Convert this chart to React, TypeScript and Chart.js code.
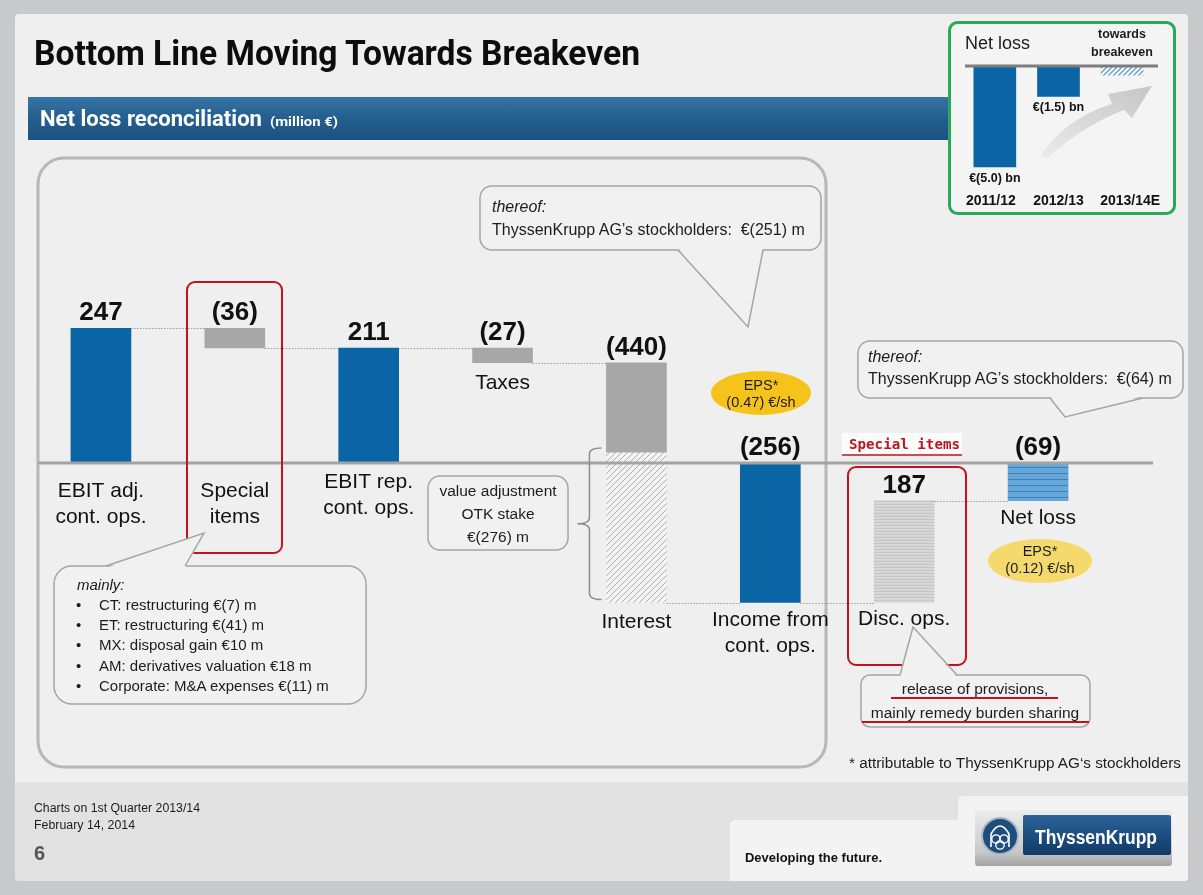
import React, { useEffect, useRef } from "react";
import { Chart, registerables } from "chart.js";
Chart.register(...registerables);

// ---------------- DATA ----------------
const categories: string[][] = [
  ["EBIT adj.", "cont. ops."],
  ["Special", "items"],
  ["EBIT rep.", "cont. ops."],
  ["Taxes"],
  ["Interest"],
  ["Income from", "cont. ops."],
  ["Disc. ops."],
  ["Net loss"],
];
const values = [247, -36, 211, -27, -440, -256, 187, -69];
const barKinds = ["total", "delta", "total", "delta", "delta", "total", "delta", "total"];
const valueLabels = ["247", "(36)", "211", "(27)", "(440)", "(256)", "187", "(69)"];
const otkIndex = 4;
const otkStake = -276;

const insetYears = ["2011/12", "2012/13", "2013/14E"];
const insetValues = [-5.0, -1.5, -0.45];
const insetValueLabels = ["€(5.0) bn", "€(1.5) bn", ""];

// ---------------- STYLE / LAYOUT ----------------
const BLUE = "#0b64a3";
const GRAY = "#a7a7a7";
const barLook = ["blue", "gray", "blue", "gray", "gray", "blue", "disc", "net"];
const labelAnchor = ["zero", "zero", "zero", "bar", "bar", "bar", "bar", "bar"];
const labelGap = [28, 28, 19, 20, 20, 18, 17, 18];
const FONT = "'Liberation Sans', Arial, sans-serif";

function computeRanges(): [number, number][] {
  let running = 0;
  return values.map((v, i) => {
    if (barKinds[i] === "total") {
      running = v;
      return [0, v] as [number, number];
    }
    const s = running;
    running = s + v;
    return [s, running] as [number, number];
  });
}

function makePattern(w: number, h: number, draw: (g: CanvasRenderingContext2D) => void): CanvasPattern {
  const c = document.createElement("canvas");
  c.width = w;
  c.height = h;
  const g = c.getContext("2d")!;
  draw(g);
  return g.createPattern(c, "repeat")!;
}

function diagHatch(bg: string, fg: string, s: number, lw: number) {
  return makePattern(s, s, (g) => {
    g.fillStyle = bg;
    g.fillRect(0, 0, s, s);
    g.strokeStyle = fg;
    g.lineWidth = lw;
    g.beginPath();
    g.moveTo(0, s);
    g.lineTo(s, 0);
    g.moveTo(-s / 2, s / 2);
    g.lineTo(s / 2, -s / 2);
    g.moveTo(s / 2, s * 1.5);
    g.lineTo(s * 1.5, s / 2);
    g.stroke();
  });
}

function mainConfig(): any {
  const ranges = computeRanges();
  const n = categories.length;
  const pick = (look: string) => ranges.map((r, i) => (barLook[i] === look ? r : null));
  const grayData = pick("gray").map((r, i) => (r && i === otkIndex ? [r[0], r[1] - otkStake] : r));
  const otkData = ranges.map((r, i) => (i === otkIndex ? [r[1] - otkStake, r[1]] : null));

  const otkPattern = diagHatch("#f4f4f4", "#ababab", 6, 1);
  const netPattern = makePattern(4, 6, (g) => {
    g.fillStyle = "#67a6d8";
    g.fillRect(0, 0, 4, 6);
    g.fillStyle = "#3c80bd";
    g.fillRect(0, 5, 4, 1);
  });
  const discPattern = makePattern(2, 3, (g) => {
    g.fillStyle = "#d5d5d5";
    g.fillRect(0, 0, 2, 3);
    g.fillStyle = "#c4c4c4";
    g.fillRect(0, 0, 2, 1);
    g.fillStyle = "#dedede";
    g.fillRect(1, 1, 1, 1);
  });

  const ds = (label: string, data: any[], color: any) => ({
    label,
    data,
    backgroundColor: color,
    borderWidth: 0,
    grouped: false,
    barThickness: 60,
  });

  const plugin = {
    id: "waterfallDeco",
    afterDatasetsDraw(chart: any) {
      const ctx = chart.ctx as CanvasRenderingContext2D;
      const xs = chart.scales.x;
      const ys = chart.scales.y;
      const y0 = ys.getPixelForValue(0);
      const half = 30;
      ctx.save();
      // dotted connectors
      ctx.strokeStyle = "#9b9b9b";
      ctx.lineWidth = 1;
      ctx.setLineDash([1.5, 1.5]);
      for (let i = 0; i < n - 1; i++) {
        const ly = Math.round(ys.getPixelForValue(ranges[i][1])) + 0.5;
        ctx.beginPath();
        ctx.moveTo(xs.getPixelForValue(i) + half, ly);
        ctx.lineTo(xs.getPixelForValue(i + 1) - half, ly);
        ctx.stroke();
      }
      ctx.setLineDash([]);
      // zero line
      ctx.strokeStyle = "#a3a3a3";
      ctx.lineWidth = 3;
      ctx.beginPath();
      ctx.moveTo(38, y0);
      ctx.lineTo(1153, y0);
      ctx.stroke();
      // bracket for OTK stake
      const r = ranges[otkIndex];
      const bTop = ys.getPixelForValue(r[1] - otkStake) - 4;
      const bBot = ys.getPixelForValue(r[1]) - 3;
      const bx = xs.getPixelForValue(otkIndex) - half - 17;
      const mid = (bTop + bBot) / 2;
      ctx.strokeStyle = "#8d8d8d";
      ctx.lineWidth = 1.5;
      ctx.beginPath();
      ctx.moveTo(bx + 12, bTop);
      ctx.quadraticCurveTo(bx, bTop, bx, bTop + 6);
      ctx.lineTo(bx, mid - 6);
      ctx.quadraticCurveTo(bx, mid, bx - 12, mid);
      ctx.quadraticCurveTo(bx, mid, bx, mid + 6);
      ctx.lineTo(bx, bBot - 6);
      ctx.quadraticCurveTo(bx, bBot, bx + 12, bBot);
      ctx.stroke();
      // value labels
      ctx.fillStyle = "#111";
      ctx.textAlign = "center";
      ctx.textBaseline = "alphabetic";
      ctx.font = `bold 26px ${FONT}`;
      for (let i = 0; i < n; i++) {
        const top = ys.getPixelForValue(Math.max(ranges[i][0], ranges[i][1]));
        ctx.fillText(valueLabels[i], xs.getPixelForValue(i), top - 8);
      }
      // category labels
      ctx.font = `21px ${FONT}`;
      ctx.textBaseline = "middle";
      for (let i = 0; i < n; i++) {
        const base =
          labelAnchor[i] === "zero" ? y0 : ys.getPixelForValue(Math.min(ranges[i][0], ranges[i][1]));
        categories[i].forEach((t, j) => {
          ctx.fillText(t, xs.getPixelForValue(i), base + labelGap[i] + j * 26);
        });
      }
      ctx.restore();
    },
  };

  return {
    type: "bar",
    data: {
      labels: categories.map((c) => c.join(" ")),
      datasets: [
        ds("Totals", pick("blue"), BLUE),
        ds("Changes", grayData, GRAY),
        ds("Value adjustment OTK stake", otkData, otkPattern),
        ds("Disc. ops.", pick("disc"), discPattern),
        ds("Net loss", pick("net"), netPattern),
      ],
    },
    options: {
      animation: false,
      responsive: false,
      maintainAspectRatio: false,
      layout: { padding: { left: 34, right: 98, top: 299.5, bottom: 268.5 } },
      scales: {
        x: { display: false },
        y: { display: false, min: -300, max: 300 },
      },
      plugins: { legend: { display: false }, tooltip: { enabled: false } },
    },
    plugins: [plugin],
  };
}

function insetConfig(): any {
  const hatch = diagHatch("#f6f6f6", "#4a93c2", 5, 1.2);
  const plugin = {
    id: "insetDeco",
    afterDatasetsDraw(chart: any) {
      const ctx = chart.ctx as CanvasRenderingContext2D;
      const xs = chart.scales.x;
      const ys = chart.scales.y;
      const y0 = ys.getPixelForValue(0);
      ctx.save();
      ctx.strokeStyle = "#7d7d7d";
      ctx.lineWidth = 3;
      ctx.beginPath();
      ctx.moveTo(17, y0);
      ctx.lineTo(210, y0);
      ctx.stroke();
      ctx.fillStyle = "#111";
      ctx.textAlign = "center";
      ctx.textBaseline = "alphabetic";
      ctx.font = `bold 12.5px ${FONT}`;
      insetValues.forEach((v, i) => {
        ctx.fillText(insetValueLabels[i], xs.getPixelForValue(i), ys.getPixelForValue(v) + 15);
      });
      ctx.font = `bold 14px ${FONT}`;
      insetYears.forEach((t, i) => {
        ctx.fillText(t, xs.getPixelForValue(i) + (i === 2 ? 8 : i === 0 ? -4 : 0), 184);
      });
      ctx.restore();
    },
  };
  return {
    type: "bar",
    data: {
      labels: insetYears,
      datasets: [
        {
          label: "Net loss",
          data: insetValues.map((v) => [0, v]),
          backgroundColor: [BLUE, BLUE, hatch],
          borderWidth: 0,
          barThickness: 42,
        },
      ],
    },
    options: {
      animation: false,
      responsive: false,
      maintainAspectRatio: false,
      layout: { padding: { left: 15, right: 22, top: 24.8, bottom: 37.9 } },
      scales: { x: { display: false }, y: { display: false, min: -5.5, max: 1 } },
      plugins: { legend: { display: false }, tooltip: { enabled: false } },
    },
    plugins: [plugin],
  };
}

// ---------------- SVG helpers ----------------
const CB_FILL = "#f1f1f1";
const CB_STROKE = "#a5a5a5";

function Callout(p: { x: number; y: number; w: number; h: number; r: number; tail?: number[][] }) {
  const { x, y, w, h, r, tail } = p;
  let poly = "";
  let line = "";
  if (tail) {
    const [a, t, b] = tail;
    const inward = t[1] > a[1] ? -2 : 2;
    poly = `${a[0]},${a[1] + inward} ${t[0]},${t[1]} ${b[0]},${b[1] + inward}`;
    line = `${a[0]},${a[1]} ${t[0]},${t[1]} ${b[0]},${b[1]}`;
  }
  return (
    <g>
      <rect x={x} y={y} width={w} height={h} rx={r} fill={CB_FILL} stroke={CB_STROKE} strokeWidth={1.5} />
      {tail && <polygon points={poly} fill={CB_FILL} stroke="none" />}
      {tail && <polyline points={line} fill="none" stroke={CB_STROKE} strokeWidth={1.5} />}
    </g>
  );
}

function BackSvg() {
  return (
    <svg width={1203} height={895} style={{ position: "absolute", left: 0, top: 0 }}>
      <defs>
        <linearGradient id="banner" x1="0" y1="0" x2="0" y2="1">
          <stop offset="0" stopColor="#3775a7" />
          <stop offset="0.45" stopColor="#25608f" />
          <stop offset="1" stopColor="#1a5283" />
        </linearGradient>
      </defs>
      <rect width={1203} height={895} fill="#c8c9cb" />
      <rect x={15} y={14} width={1173} height={867} rx={4} fill="#efefef" />
      <path d="M15,782 L1188,782 L1188,877 Q1188,881 1184,881 L19,881 Q15,881 15,877 Z" fill="#e2e2e2" />
      <path d="M730,881 L730,826 Q730,820 736,820 L958,820 L958,802 Q958,796 964,796 L1188,796 L1188,877 Q1188,881 1184,881 Z" fill="#f3f3f3" />
      <rect x={28} y={97} width={922} height={43} fill="url(#banner)" />
      <rect x={38} y={158} width={788} height={609} rx={26} fill="none" stroke="#b7b7b7" strokeWidth={3} />
    </svg>
  );
}

function FrontSvg() {
  const t = { fontFamily: FONT, fill: "#1c1c1c" } as any;
  return (
    <svg width={1203} height={895} style={{ position: "absolute", left: 0, top: 0 }}>
      <defs>
        <linearGradient id="logoGray" x1="0" y1="0" x2="0" y2="1">
          <stop offset="0" stopColor="#ececec" />
          <stop offset="0.75" stopColor="#c9c9c9" />
          <stop offset="1" stopColor="#a3a3a3" />
        </linearGradient>
        <linearGradient id="logoBlue" x1="0" y1="0" x2="0" y2="1">
          <stop offset="0" stopColor="#2d6299" />
          <stop offset="1" stopColor="#0f3b68" />
        </linearGradient>
        <linearGradient id="arrowGrad" x1="0" y1="1" x2="1" y2="0">
          <stop offset="0" stopColor="#ebebeb" />
          <stop offset="1" stopColor="#c6c6c6" />
        </linearGradient>
      </defs>

      {/* Title and banner */}
      <text x={34} y={65} fontFamily="Roboto, sans-serif" fontWeight={700} fontSize={35} fill="#0d0d0d" textLength={606} lengthAdjust="spacingAndGlyphs">
        Bottom Line Moving Towards Breakeven
      </text>
      <text x={40} y={126} fontFamily="Roboto, sans-serif" fontWeight={700} fontSize={22} fill="#ffffff" textLength={222} lengthAdjust="spacingAndGlyphs">
        Net loss reconciliation
      </text>
      <text x={270} y={126} fontFamily="Roboto, sans-serif" fontWeight={700} fontSize={13} fill="#ffffff" textLength={68} lengthAdjust="spacingAndGlyphs">
        (million €)
      </text>

      {/* Red boxes */}
      <rect x={187} y={282} width={95} height={271} rx={8} fill="none" stroke="#c2121c" strokeWidth={2} />
      <rect x={848} y={467} width={118} height={198} rx={8} fill="none" stroke="#c2121c" strokeWidth={2} />
      <rect x={842} y={433} width={120} height={21} fill="#fbfbfb" />
      <text x={849} y={449} fontFamily="'DejaVu Sans Mono', monospace" fontWeight={700} fontSize={14} fill="#c0141c" textLength={111} lengthAdjust="spacingAndGlyphs">
        Special items
      </text>
      <line x1={842} y1={455} x2={962} y2={455} stroke="#c0141c" strokeWidth={1.5} />

      {/* Callouts */}
      <Callout x={480} y={186} w={341} h={64} r={12} tail={[[678, 250], [748, 327], [763, 250]]} />
      <text {...t} x={492} y={212} fontSize={16} fontStyle="italic">thereof:</text>
      <text {...t} x={492} y={235} fontSize={16}>{"ThyssenKrupp AG’s stockholders:\u00a0 €(251) m"}</text>

      <Callout x={858} y={341} w={325} h={57} r={12} tail={[[1050, 398], [1065, 417], [1143, 398]]} />
      <text {...t} x={868} y={362} fontSize={16} fontStyle="italic">thereof:</text>
      <text {...t} x={868} y={384} fontSize={16}>{"ThyssenKrupp AG’s stockholders:\u00a0 €(64) m"}</text>

      <Callout x={428} y={476} w={140} h={74} r={12} />
      <text {...t} x={498} y={496} fontSize={15.5} textAnchor="middle">value adjustment</text>
      <text {...t} x={498} y={519} fontSize={15.5} textAnchor="middle">OTK stake</text>
      <text {...t} x={498} y={542} fontSize={15.5} textAnchor="middle">€(276) m</text>

      <Callout x={54} y={566} w={312} h={138} r={18} tail={[[106, 566], [204, 533], [185, 566]]} />
      <text {...t} x={77} y={590} fontSize={15} fontStyle="italic">mainly:</text>
      {[
        "CT: restructuring €(7) m",
        "ET: restructuring €(41) m",
        "MX: disposal gain €10 m",
        "AM: derivatives valuation €18 m",
        "Corporate: M&A expenses €(11) m",
      ].map((s, i) => (
        <g key={i}>
          <text {...t} x={76} y={610 + i * 20.2} fontSize={15}>•</text>
          <text {...t} x={99} y={610 + i * 20.2} fontSize={15}>{s}</text>
        </g>
      ))}

      <Callout x={861} y={675} w={229} h={52} r={9} tail={[[900, 675], [913, 627], [957, 675]]} />
      <text {...t} x={975} y={694} fontSize={15.5} textAnchor="middle">release of provisions,</text>
      <text {...t} x={975} y={718} fontSize={15.5} textAnchor="middle">mainly remedy burden sharing</text>
      <line x1={891} y1={698} x2={1058} y2={698} stroke="#c0141c" strokeWidth={2} />
      <line x1={862} y1={722} x2={1089} y2={722} stroke="#c0141c" strokeWidth={2} />

      {/* EPS ellipses */}
      <ellipse cx={761} cy={393} rx={50} ry={22} fill="#f6c31b" />
      <text {...t} x={761} y={390} fontSize={14.5} textAnchor="middle">EPS*</text>
      <text {...t} x={761} y={407} fontSize={14.5} textAnchor="middle">(0.47) €/sh</text>
      <ellipse cx={1040} cy={561} rx={52} ry={22} fill="#f4d96d" />
      <text {...t} x={1040} y={556} fontSize={14.5} textAnchor="middle">EPS*</text>
      <text {...t} x={1040} y={573} fontSize={14.5} textAnchor="middle">(0.12) €/sh</text>

      <text {...t} x={849} y={768} fontSize={15.5} textLength={332} lengthAdjust="spacingAndGlyphs">
        * attributable to ThyssenKrupp AG‘s stockholders
      </text>

      {/* Inset box */}
      <rect x={949.5} y={22.5} width={225} height={191} rx={8} fill="#f4f4f4" stroke="#2aa85a" strokeWidth={3} />
      <text {...t} x={965} y={49} fontSize={18}>Net loss</text>
      <text {...t} x={1122} y={38} fontSize={12.5} fontWeight={700} textAnchor="middle">towards</text>
      <text {...t} x={1122} y={56} fontSize={12.5} fontWeight={700} textAnchor="middle">breakeven</text>
      <path
        d="M1040,156 Q1066,118 1112,104 L1108,94 L1152,86 L1132,118 L1124,110 Q1086,124 1047,158 Z"
        fill="url(#arrowGrad)"
      />

      {/* Footer */}
      <text {...t} x={34} y={812} fontSize={12} textLength={166} lengthAdjust="spacingAndGlyphs">Charts on 1st Quarter 2013/14</text>
      <text {...t} x={34} y={829} fontSize={12} textLength={101} lengthAdjust="spacingAndGlyphs">February 14, 2014</text>
      <text x={34} y={860} fontFamily={FONT} fontSize={20} fontWeight={700} fill="#555">6</text>
      <text x={745} y={862} fontFamily={FONT} fontSize={13.5} fontWeight={700} fill="#111" textLength={137} lengthAdjust="spacingAndGlyphs">
        Developing the future.
      </text>
      <rect x={975} y={810} width={197} height={56} rx={3} fill="url(#logoGray)" />
      <rect x={1023} y={815} width={148} height={40} rx={2} fill="url(#logoBlue)" />
      <text x={1096} y={844} fontFamily={FONT} fontSize={20} fontWeight={700} fill="#fff" textAnchor="middle" textLength={122} lengthAdjust="spacingAndGlyphs">
        ThyssenKrupp
      </text>
      <circle cx={1000} cy={836} r={18} fill="#1f4e7c" stroke="#a9bacb" strokeWidth={2} />
      <path d="M991,847 L991,834 Q1000,818 1009,834 L1009,847" fill="none" stroke="#fff" strokeWidth={1.6} />
      <circle cx={996} cy={839} r={4.2} fill="none" stroke="#fff" strokeWidth={1.3} />
      <circle cx={1004} cy={839} r={4.2} fill="none" stroke="#fff" strokeWidth={1.3} />
      <circle cx={1000} cy={845} r={4.2} fill="none" stroke="#fff" strokeWidth={1.3} />
    </svg>
  );
}

export default function App() {
  const mainRef = useRef<HTMLCanvasElement>(null);
  const insetRef = useRef<HTMLCanvasElement>(null);
  useEffect(() => {
    const c1 = new Chart(mainRef.current!, mainConfig());
    const c2 = new Chart(insetRef.current!, insetConfig());
    return () => {
      c1.destroy();
      c2.destroy();
    };
  }, []);
  return (
    <div style={{ position: "fixed", left: 0, top: 0, width: 1203, height: 895, overflow: "hidden" }}>
      <BackSvg />
      <canvas ref={mainRef} width={1203} height={895} style={{ position: "absolute", left: 0, top: 0 }} />
      <FrontSvg />
      <canvas ref={insetRef} width={228} height={194} style={{ position: "absolute", left: 948, top: 21 }} />
    </div>
  );
}
